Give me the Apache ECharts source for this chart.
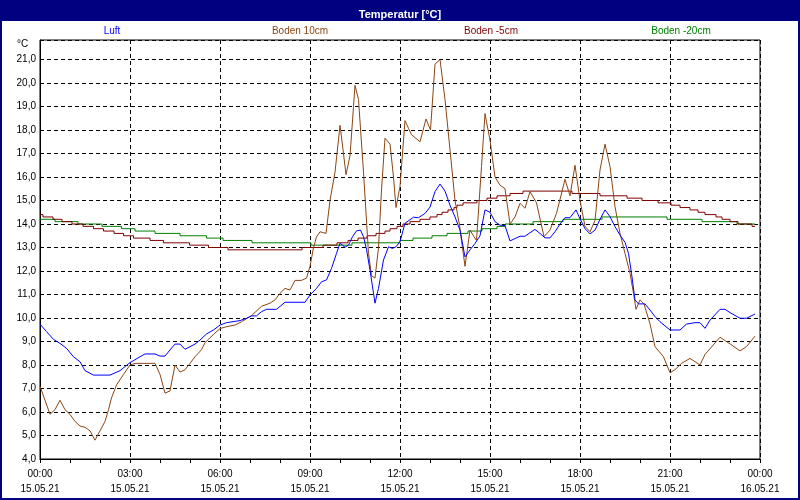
<!DOCTYPE html>
<html>
<head>
<meta charset="utf-8">
<script src="https://cdn.jsdelivr.net/npm/echarts@6/dist/echarts.min.js"></script>
<style>
html,body{margin:0;padding:0;background:#fff;}
#chart{width:800px;height:500px;}
</style>
</head>
<body>
<div id="chart"></div>
<script>
// time in minutes since 15.05.21 00:00, temperature in °C
const seriesNames = ['Luft', 'Boden 10cm', 'Boden -5cm', 'Boden -20cm'];
const seriesColors = ['#0000ff', '#8b4513', '#800000', '#008000'];

const luft = [[0,9.74],[13,9.42],[27,9.09],[40,8.92],[53,8.71],[67,8.35],[80,8.14],[90,7.76],[107,7.57],[140,7.57],[160,7.76],[180,8.1],[200,8.35],[210,8.47],[230,8.47],[240,8.38],[250,8.38],[260,8.64],[270,8.89],[280,8.89],[290,8.67],[310,8.89],[320,9.06],[333,9.32],[347,9.49],[360,9.7],[373,9.8],[400,9.89],[413,9.99],[423,10.09],[433,10.09],[443,10.27],[453,10.37],[473,10.37],[490,10.67],[530,10.67],[540,10.98],[553,11.26],[563,11.54],[573,11.62],[583,12.11],[593,12.75],[600,13.18],[610,13.01],[617,13.1],[625,13.46],[633,13.71],[641,13.74],[647,13.46],[653,12.92],[660,12.04],[670,10.63],[677,11.26],[687,12.47],[697,13.03],[705,12.96],[712,13.03],[720,13.25],[730,14.03],[747,14.29],[757,14.27],[770,14.45],[780,14.72],[790,15.38],[800,15.7],[810,15.4],[820,14.8],[830,14.3],[840,13.74],[850,12.6],[860,12.9],[870,13.17],[880,13.5],[890,14.6],[900,14.5],[910,14.1],[920,13.95],[930,13.93],[940,13.28],[950,13.38],[960,13.48],[970,13.48],[980,13.63],[990,13.77],[1000,13.6],[1010,13.41],[1020,13.41],[1030,13.67],[1040,14.0],[1050,14.27],[1060,14.27],[1072,14.6],[1080,14.22],[1090,13.8],[1100,13.58],[1110,13.74],[1120,14.2],[1130,14.6],[1140,14.31],[1150,13.89],[1160,13.53],[1170,13.22],[1177,12.75],[1183,11.9],[1190,10.77],[1197,10.6],[1210,10.6],[1220,10.34],[1230,10.06],[1240,9.84],[1260,9.49],[1280,9.49],[1293,9.74],[1310,9.8],[1320,9.8],[1330,9.56],[1340,9.91],[1360,10.37],[1370,10.37],[1380,10.23],[1400,9.99],[1413,9.99],[1430,10.17]];

const boden10 = [[0,7.1],[10,6.5],[20,5.9],[30,6.1],[40,6.5],[50,6.1],[60,5.9],[70,5.6],[80,5.4],[90,5.35],[100,5.2],[110,4.8],[120,5.2],[130,5.6],[137,6.1],[143,6.6],[153,7.15],[167,7.6],[180,8.0],[190,8.07],[230,8.07],[240,7.6],[250,6.8],[260,6.9],[270,8.0],[280,7.7],[290,7.8],[300,8.07],[310,8.35],[323,8.65],[330,8.95],[347,9.3],[360,9.55],[373,9.63],[390,9.7],[403,9.84],[423,10.1],[443,10.5],[460,10.63],[470,10.77],[480,11.05],[490,11.26],[500,11.19],[510,11.6],[523,11.6],[533,11.7],[540,12.2],[547,13.0],[553,13.45],[560,13.67],[572,13.6],[580,15.0],[590,16.2],[600,18.2],[603,17.7],[612,16.1],[620,16.9],[627,19.0],[630,19.9],[637,19.3],[647,16.2],[657,12.75],[663,11.8],[670,11.7],[677,13.0],[683,15.45],[690,17.65],[700,17.4],[707,16.0],[712,14.7],[720,15.6],[730,18.4],[737,18.07],[743,17.8],[760,17.5],[772,18.47],[781,18.0],[790,20.8],[800,21.0],[810,19.3],[820,17.15],[830,15.0],[839,13.96],[843,13.3],[850,12.2],[860,13.74],[868,13.46],[873,13.3],[883,16.45],[890,18.7],[893,18.35],[900,17.57],[910,16.0],[920,15.65],[930,15.5],[940,14.0],[950,14.3],[960,14.88],[970,14.67],[980,15.38],[993,14.9],[1008,13.46],[1020,13.74],[1033,14.45],[1050,15.9],[1060,15.2],[1070,16.5],[1080,15.0],[1090,13.9],[1100,13.67],[1110,14.15],[1120,16.3],[1130,17.4],[1140,16.44],[1150,14.74],[1160,13.6],[1170,12.75],[1180,11.9],[1187,11.05],[1192,10.37],[1200,10.77],[1208,10.6],[1220,9.75],[1230,8.78],[1247,8.35],[1260,7.67],[1270,7.8],[1283,8.07],[1300,8.28],[1320,8.0],[1330,8.45],[1360,9.18],[1380,8.9],[1400,8.6],[1413,8.78],[1430,9.23]];

// slow soil series: value valid from the given minute on
const bodenM5 = [[0,14.4],[6,14.3],[26,14.2],[44,14.1],[64,14.0],[86,13.9],[107,13.8],[127,13.7],[148,13.6],[167,13.5],[187,13.4],[220,13.3],[247,13.2],[299,13.1],[337,13.0],[376,12.9],[524,13.0],[566,13.1],[594,13.2],[616,13.3],[636,13.4],[654,13.5],[672,13.6],[690,13.7],[700,13.8],[714,13.9],[726,14.0],[740,14.1],[760,14.2],[780,14.3],[794,14.4],[804,14.5],[816,14.6],[828,14.7],[834,14.8],[846,14.9],[874,15.0],[894,15.1],[914,15.2],[940,15.3],[966,15.4],[1064,15.3],[1120,15.2],[1174,15.1],[1204,15.0],[1236,14.9],[1262,14.8],[1280,14.7],[1300,14.6],[1316,14.5],[1330,14.4],[1352,14.3],[1364,14.2],[1380,14.1],[1396,14.0],[1424,13.9],[1430,13.9]];

const bodenM20 = [[0,14.2],[30,14.1],[76,14.0],[124,13.9],[163,13.8],[190,13.7],[230,13.6],[280,13.5],[333,13.4],[366,13.3],[424,13.2],[542,13.1],[624,13.2],[720,13.3],[746,13.4],[784,13.5],[814,13.6],[856,13.7],[884,13.8],[914,13.9],[930,14.0],[986,14.1],[1046,14.2],[1124,14.3],[1254,14.2],[1324,14.1],[1394,14.0],[1430,14.0]];

const xMin = 0, xMax = 1440, xStep = 180;
const yMin = 4, yMax = 21.83, yStep = 1;
const dates = ['15.05.21', '16.05.21'];

const FONT = 'Liberation Sans';
const pad = n => (n < 10 ? '0' : '') + n;

const chart = echarts.init(document.getElementById('chart'), null, {renderer: 'canvas'});

const dataSets = [luft, boden10, bodenM5, bodenM20];
const steps = [false, false, 'end', 'end'];

const legendCenters = [112, 300, 491, 681];

const option = {
  animation: false,
  backgroundColor: '#ffffff',
  title: {
    text: 'Temperatur [°C]',
    left: 'center',
    top: 4,
    textStyle: {color: '#ffffff', fontWeight: 'bold', fontSize: 11, fontFamily: FONT}
  },
  grid: {left: 40, right: 40, top: 40, bottom: 41, show: true, borderColor: '#000', borderWidth: 1, backgroundColor: 'transparent'},
  xAxis: {
    type: 'value',
    min: xMin, max: xMax, interval: xStep,
    axisLine: {show: true, lineStyle: {color: '#000', width: 1}},
    axisTick: {show: true, length: 4, lineStyle: {color: '#000'}},
    minorTick: {show: true, splitNumber: 3, length: 4, lineStyle: {color: '#000'}},
    splitLine: {show: true, lineStyle: {color: '#000', type: [4, 3], width: 1}},
    axisLabel: {
      color: '#000', fontSize: 10, fontFamily: FONT, margin: 8, lineHeight: 15,
      formatter: v => {
        const h = Math.floor(v / 60) % 24;
        const d = v >= 1440 ? dates[1] : dates[0];
        return pad(h) + ':00\n' + d;
      }
    }
  },
  yAxis: {
    type: 'value',
    min: yMin, max: yMax, interval: yStep,
    axisLine: {show: true, lineStyle: {color: '#000', width: 1}},
    axisTick: {show: false},
    splitLine: {show: true, lineStyle: {color: '#000', type: [4, 3], width: 1}},
    axisLabel: {
      color: '#000', fontSize: 10, fontFamily: FONT, margin: 4,
      formatter: v => Math.abs(v - Math.round(v)) < 1e-6 ? v.toFixed(1).replace('.', ',') : ''
    }
  },
  graphic: [
    {type: 'rect', z: 0, shape: {x: 0, y: 0, width: 800, height: 21}, style: {fill: '#000080'}, silent: true},
    {type: 'rect', z: 100, shape: {x: 1, y: 1, width: 798, height: 498}, style: {fill: 'none', stroke: '#000080', lineWidth: 2}, silent: true},
    {type: 'text', z: 100, style: {x: 17, y: 44, text: '°C', fill: '#000', font: '10px "' + FONT + '"', textVerticalAlign: 'middle'}},
  ].concat(seriesNames.map((n, i) => ({
    type: 'text', z: 100,
    style: {x: legendCenters[i], y: 31, text: n, fill: seriesColors[i], font: '10px "' + FONT + '"', textAlign: 'center', textVerticalAlign: 'middle'}
  }))),
  series: seriesNames.map((n, i) => ({
    name: n,
    type: 'line',
    data: dataSets[i],
    step: steps[i],
    showSymbol: false,
    symbol: 'none',
    lineStyle: {color: seriesColors[i], width: 1},
    itemStyle: {color: seriesColors[i]},
    z: 2 + (3 - i)
  }))
};
chart.setOption(option);
</script>
</body>
</html>
